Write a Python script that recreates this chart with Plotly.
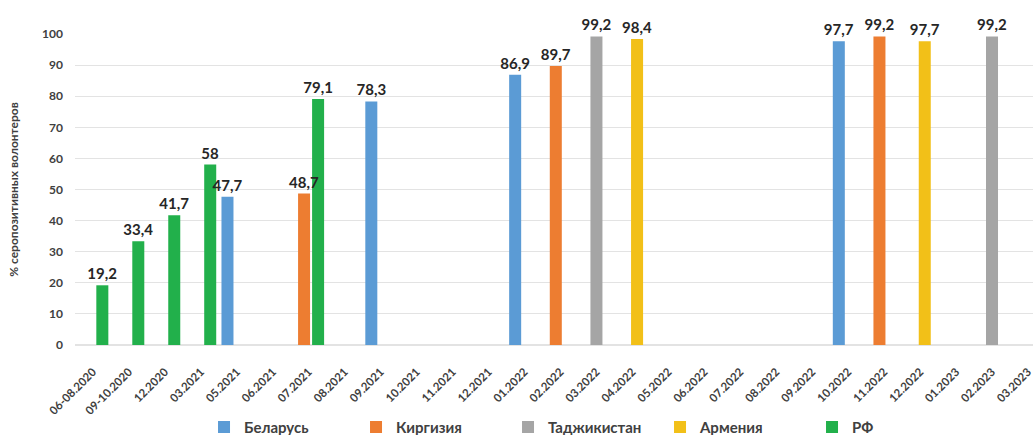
import plotly.graph_objects as go

categories = ["06-08.2020", "09-10.2020", "12.2020", "03.2021", "05.2021", "06.2021",
              "07.2021", "08.2021", "09.2021", "10.2021", "11.2021", "12.2021",
              "01.2022", "02.2022", "03.2022", "04.2022", "05.2022", "06.2022",
              "07.2022", "08.2022", "09.2022", "10.2022", "11.2022", "12.2022",
              "01.2023", "02.2023", "03.2023"]

N = None
belarus    = [N, N, N, N, 47.7, N, N, N, 78.3, N, N, N, 86.9, N, N, N, N, N, N, N, N, 97.7, N, N, N, N, N]
kyrgyzstan = [N, N, N, N, N, N, 48.7, N, N, N, N, N, N, 89.7, N, N, N, N, N, N, N, N, 99.2, N, N, N, N]
tajikistan = [N, N, N, N, N, N, N, N, N, N, N, N, N, N, 99.2, N, N, N, N, N, N, N, N, N, N, 99.2, N]
armenia    = [N, N, N, N, N, N, N, N, N, N, N, N, N, N, N, 98.4, N, N, N, N, N, N, N, 97.7, N, N, N]
russia     = [19.2, 33.4, 41.7, 58, N, N, 79.1, N, N, N, N, N, N, N, N, N, N, N, N, N, N, N, N, N, N, N, N]

series = [
    ("Беларусь", belarus, "#5B9BD5"),
    ("Киргизия", kyrgyzstan, "#ED7D31"),
    ("Таджикистан", tajikistan, "#A5A5A5"),
    ("Армения", armenia, "#F2C018"),
    ("РФ", russia, "#22B04B"),
]

BAR_W = 0.334
SLOT = 0.13

def fmt(v):
    return "" if v is None else f"{v:g}".replace(".", ",")

fig = go.Figure()
# draw in reverse order so labels of earlier series sit on top of later bars
for i in reversed(range(len(series))):
    name, vals, color = series[i]
    center = (i - 2) * SLOT
    fig.add_trace(go.Bar(
        x=list(range(len(categories))), y=vals, name=name,
        legendrank=i + 1,
        marker=dict(color=color, line=dict(width=0)),
        width=BAR_W, offset=center - BAR_W / 2,
        text=[fmt(v) for v in vals], textposition="outside",
        textfont=dict(family="Lato", size=15, color="#262626", weight="bold"),
        constraintext="none", cliponaxis=False,
    ))

fig.update_layout(
    width=1033, height=435,
    barmode="overlay",
    plot_bgcolor="white", paper_bgcolor="white",
    margin=dict(l=75, r=0, t=34, b=90, autoexpand=False),
    font=dict(family="Lato", color="#404040"),
    showlegend=True,
    legend=dict(orientation="h", xref="container", yref="container",
                x=0.1975, xanchor="left", y=0.018, yanchor="middle",
                font=dict(family="Lato", size=15, color="#404040", weight="bold"),
                entrywidth=107, entrywidthmode="pixels", traceorder="normal",
                itemclick=False),
    xaxis=dict(
        tickmode="array", tickvals=list(range(len(categories))), ticktext=categories,
        tickangle=-45, range=[-0.5, 26.14], automargin=False,
        ticklabelstandoff=17, ticklabeloverflow="allow",
        tickfont=dict(family="Lato", size=11.5, color="#404040", weight="bold"),
        showgrid=False, showline=False, zeroline=False, ticks="",
    ),
    yaxis=dict(
        range=[0, 100], dtick=10, showgrid=True, gridcolor="#E3E3E3", gridwidth=1,
        zeroline=True, zerolinecolor="#E3E3E3", showline=False, ticks="",
        ticklabelstandoff=11, automargin=False,
        tickfont=dict(family="Lato", size=12, color="#404040", weight="bold"),
        title=dict(text="% серопозитивных волонтеров", standoff=20,
                   font=dict(family="Lato", size=12, color="#404040", weight="bold")),
    ),
)

fig.write_html("out.html")
